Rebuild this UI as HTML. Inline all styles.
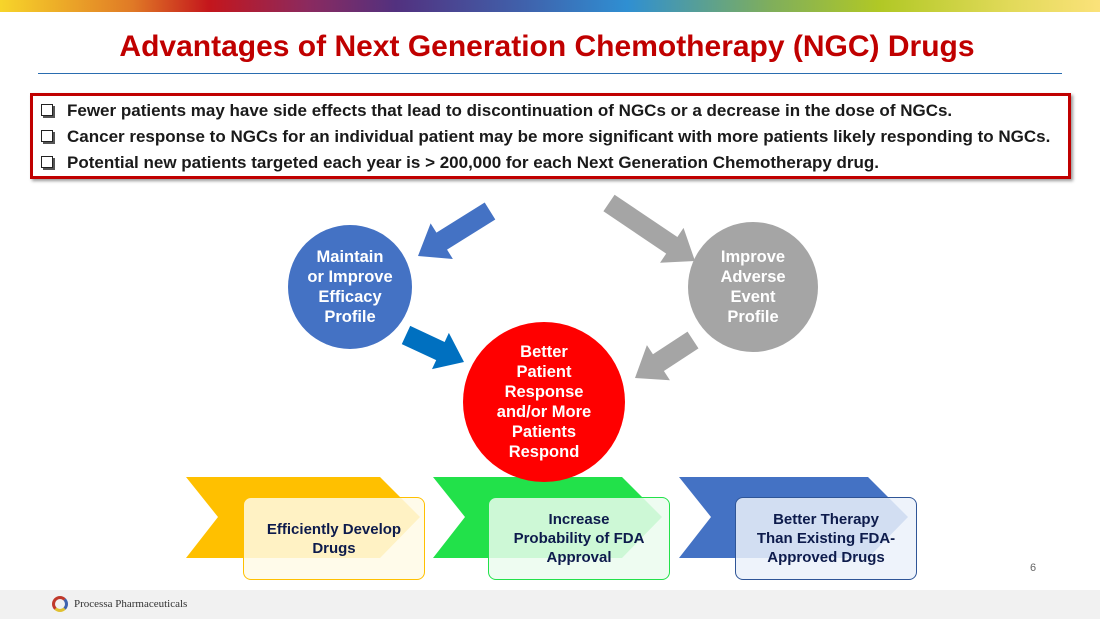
<!DOCTYPE html>
<html><head><meta charset="utf-8"><style>
body{margin:0;width:1100px;height:619px;overflow:hidden;background:#fff;font-family:"Liberation Sans",sans-serif;position:relative}
.band{position:absolute;left:0;top:0;width:1100px;height:12px;background:linear-gradient(90deg,#f7d52a 0%,#e07a26 12%,#c4161c 19%,#8b2a5f 28%,#52317f 36%,#3f63ad 48%,#2f8fd2 57%,#7fae5c 70%,#b1c825 80%,#e2da5a 92%,#fbe27a 100%)}
h1{position:absolute;left:0;width:1094px;top:30px;margin:0;text-align:center;color:#c00000;font-size:30px;font-weight:bold}
.rule{position:absolute;left:38px;top:73px;width:1024px;height:1px;background:#2a6db0}
.box{position:absolute;left:30px;top:93px;width:1035px;height:80px;border:3px solid #c00000;box-shadow:2px 2px 3px #999}
.box div{position:absolute;left:8px;font-size:17px;font-weight:bold;color:#1a1a1a;white-space:nowrap}
.box span{display:inline-block;width:10px;height:10px;border:1px solid #222;margin-right:14px;vertical-align:0px;box-shadow:2px 2px 0 #555}
.c{position:absolute;border-radius:50%;color:#fff;font-weight:bold;font-size:16.5px;line-height:20px;text-align:center;display:flex;align-items:center;justify-content:center}
.tb{position:absolute;border-radius:8px;color:#0d1b4c;font-weight:bold;font-size:15px;line-height:19px;text-align:center;display:flex;align-items:center;justify-content:center}
.foot{position:absolute;left:0;top:590px;width:1100px;height:29px;background:#f1f1f1}
</style></head><body>
<div class="band"></div>
<h1>Advantages of Next Generation Chemotherapy (NGC) Drugs</h1>
<div class="rule"></div>
<div class="box">
<div style="top:5px"><span></span>Fewer patients may have side effects that lead to discontinuation of NGCs or a decrease in the dose of NGCs.</div>
<div style="top:31px"><span></span>Cancer response to NGCs for an individual patient may be more significant with more patients likely responding to NGCs.</div>
<div style="top:57px"><span></span>Potential new patients targeted each year is &gt; 200,000 for each Next Generation Chemotherapy drug.</div>
</div>
<svg id="s" width="1100" height="619" style="position:absolute;left:0;top:0">
<polygon points="186,477 380,477 420,517 380,558 186,558 218,517" fill="#ffc000"/>
<polygon points="433,477 622,477 662,517 622,558 433,558 465,517" fill="#22e14a"/>
<polygon points="679,477 868,477 908,517 868,558 679,558 711,517" fill="#4472c4"/>
</svg>
<div class="c" style="left:288px;top:225px;width:124px;height:124px;background:#4472c4">Maintain<br>or Improve<br>Efficacy<br>Profile</div>
<div class="c" style="left:688px;top:222px;width:130px;height:130px;background:#a5a5a5">Improve<br>Adverse<br>Event<br>Profile</div>
<div class="c" style="left:463px;top:322px;width:162px;height:160px;background:#ff0000">Better<br>Patient<br>Response<br>and/or More<br>Patients<br>Respond</div>
<div class="tb" style="left:243px;top:497px;width:180px;height:81px;border:1.5px solid #ffc000;background:rgba(255,250,230,.85)">Efficiently Develop<br>Drugs</div>
<div class="tb" style="left:488px;top:497px;width:180px;height:81px;border:1.5px solid #22e14a;background:rgba(235,252,238,.85)">Increase<br>Probability of FDA<br>Approval</div>
<div class="tb" style="left:735px;top:497px;width:180px;height:81px;border:1.5px solid #2f5597;background:rgba(235,241,250,.85)">Better Therapy<br>Than Existing FDA-<br>Approved Drugs</div>
<div style="position:absolute;left:1030px;top:562px;font-size:11px;color:#666">6</div>
<div class="foot"><div style="position:absolute;left:52px;top:6px;width:16px;height:16px;border-radius:50%;border:3px solid #c0392b;border-right-color:#3f63ad;border-bottom-color:#e0c030;box-sizing:border-box"></div><div style="position:absolute;left:74px;top:8px;font-family:'Liberation Serif',serif;font-size:11px;color:#333">Processa Pharmaceuticals</div></div>
<script>
function arrow(x1,y1,x2,y2,w,hw,hl,col){var dx=x2-x1,dy=y2-y1,L=Math.hypot(dx,dy),ux=dx/L,uy=dy/L,px=-uy,py=ux,bx=x2-ux*hl,by=y2-uy*hl;
var p=[[x1+px*w,y1+py*w],[bx+px*w,by+py*w],[bx+px*hw,by+py*hw],[x2,y2],[bx-px*hw,by-py*hw],[bx-px*w,by-py*w],[x1-px*w,y1-py*w]];
var e=document.createElementNS("http://www.w3.org/2000/svg","polygon");e.setAttribute("points",p.map(function(q){return q.join(",")}).join(" "));e.setAttribute("fill",col);document.getElementById("s").appendChild(e);}
arrow(490,211,418,256,10,21,28,"#4472c4");
arrow(609,203,695,261,10,21,28,"#a5a5a5");
arrow(406,335,464,362,10,20,26,"#0070c0");
arrow(693,340,635,378,10,21,28,"#a5a5a5");
</script>
</body></html>
